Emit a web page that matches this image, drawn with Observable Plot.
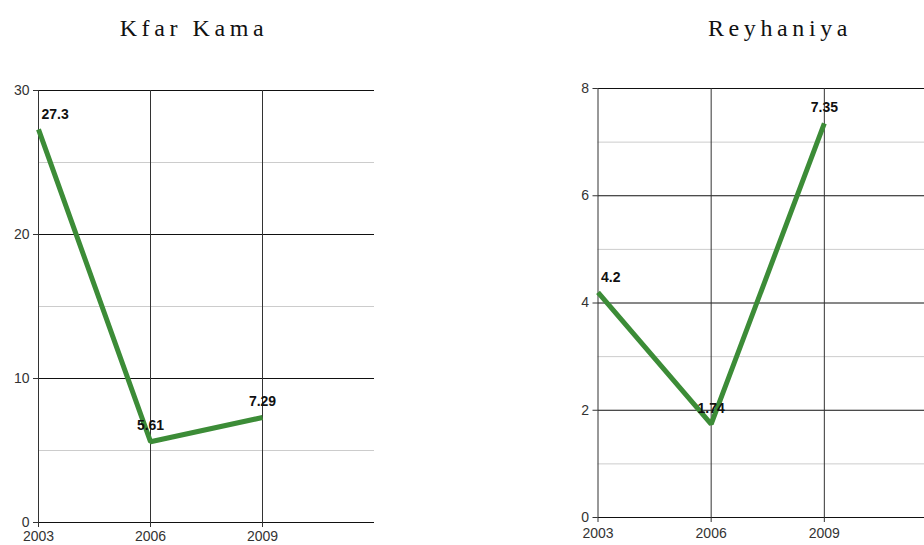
<!DOCTYPE html>
<html>
<head>
<meta charset="utf-8">
<script src="https://cdn.jsdelivr.net/npm/d3@7"></script>
<script src="https://cdn.jsdelivr.net/npm/@observablehq/plot@0.6"></script>
<style>
  html, body { margin: 0; padding: 0; background: #fff; width: 924px; height: 545px; overflow: hidden; }
  #wrap { position: relative; width: 924px; height: 545px; overflow: hidden; }
  .title { position: absolute; top: 15px; font-family: "Liberation Serif", "Times New Roman", serif; font-size: 24px; letter-spacing: 4.6px; color: #111; transform: translateX(-50%); white-space: nowrap; }
</style>
</head>
<body>
<div id="wrap"></div>
<script>
const years = [2003, 2006, 2009];
const kfarKama = [27.3, 5.61, 7.29];
const reyhaniya = [4.2, 1.74, 7.35];
const kfarMajor = [0, 10, 20, 30];
const kfarMinor = [5, 15, 25];
const reyMajor = [0, 2, 4, 6, 8];
const reyMinor = [1, 3, 5, 7];
const titles = ["Kfar Kama", "Reyhaniya"];

function makeChart(values, major, minor, opts) {
  const data = years.map((y, i) => ({year: y, value: values[i]}));
  return Plot.plot({
    width: opts.width,
    height: 485,
    marginLeft: opts.marginLeft,
    marginRight: opts.marginRight,
    marginTop: opts.marginTop,
    marginBottom: opts.marginBottom,
    style: {fontFamily: "'Liberation Sans', Arial, sans-serif", background: "transparent", overflow: "visible"},
    x: {domain: [2003, 2012]},
    y: {domain: [0, d3.max(major)]},
    marks: [
      Plot.ruleY(minor, {stroke: "#cccccc", strokeWidth: 1}),
      Plot.ruleY(major, {stroke: "#111", strokeWidth: 1}),
      Plot.ruleX(years, {stroke: "#333", strokeWidth: 1}),
      Plot.axisY(major, {tickSize: 5, tickPadding: 4, fontSize: 14, color: "#333", tickFormat: d => String(d), label: null}),
      Plot.axisX(years, {tickSize: 5, tickPadding: opts.xPad, fontSize: 14, color: "#333", tickFormat: d => String(d), label: null}),
      Plot.line(data, {x: "year", y: "value", stroke: "#3c8c37", strokeWidth: 5, strokeLinejoin: "miter", strokeLinecap: "butt"}),
      Plot.text(data.slice(0, 1), {x: "year", y: "value", text: d => String(d.value), textAnchor: "start", dx: 3, dy: -15, fontSize: 14, fontWeight: "bold", fill: "#111"}),
      Plot.text(data.slice(1), {x: "year", y: "value", text: d => String(d.value), textAnchor: "middle", dy: -16, fontSize: 14, fontWeight: "bold", fill: "#111"})
    ]
  });
}

const wrap = document.getElementById("wrap");

const left = makeChart(kfarKama, kfarMajor, kfarMinor, {width: 462, marginLeft: 38, marginRight: 88, marginTop: 30, marginBottom: 23, xPad: 4});
left.style.position = "absolute";
left.style.left = "0px";
left.style.top = "60px";
wrap.appendChild(left);

const right = makeChart(reyhaniya, reyMajor, reyMinor, {width: 480, marginLeft: 135.5, marginRight: 5, marginTop: 28, marginBottom: 28, xPad: 6});
right.style.position = "absolute";
right.style.left = "462px";
right.style.top = "60px";
wrap.appendChild(right);

const t1 = document.createElement("div");
t1.className = "title"; t1.textContent = titles[0]; t1.style.left = "194px";
wrap.appendChild(t1);
const t2 = document.createElement("div");
t2.className = "title"; t2.textContent = titles[1]; t2.style.left = "780px";
wrap.appendChild(t2);
</script>
</body>
</html>
